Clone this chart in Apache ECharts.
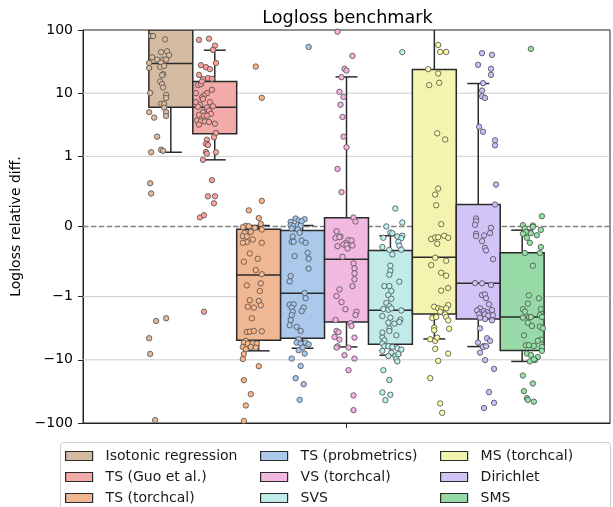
<!DOCTYPE html>
<html>
<head>
<meta charset="utf-8">
<script src="https://cdn.jsdelivr.net/npm/echarts@6/dist/echarts.min.js"></script>
<style>html,body{margin:0;padding:0;background:#fff}#c{width:613px;height:507px}</style>
</head>
<body>
<div id="c"></div>
<script>
// ---------- data ----------
const groups = ['Isotonic regression','TS (Guo et al.)','TS (torchcal)','TS (probmetrics)','VS (torchcal)','SVS','MS (torchcal)','Dirichlet','SMS'];
const boxFill = ['#d6bba3','#f2aba8','#efb792','#abc9ea','#f1b9e0','#c0ebe9','#f4f3af','#d3c4f7','#98daa7'];
const pointFill = ['#debb9b','#ff9f9b','#ffb482','#a1c9f4','#fab0e4','#b9f2f0','#fffea3','#d0bbff','#8de5a1'];

const whiskerLow  = [1.16, 0.95, -7.2, -6.55, -6.25, -8.45, -4.67, -6.17, -10.6];
const boxQ1       = [6.0, 2.28, -4.9, -4.55, -2.52, -5.66, -1.88, -2.26, -7.1];
const boxMedian   = [29.4, 6.0, -0.69, -0.95, -0.465, -1.64, -0.437, -0.81, -2.10];
const boxQ3       = [200, 15.3, -0.038, -0.057, 0.124, -0.341, 23.7, 0.313, -0.374];
const whiskerHigh = [2000, 47.9, 0.014, 0.014, 18.1, -0.132, 500, 14.2, -0.052];

const yTicks = [-100, -10, -1, 0, 1, 10, 100];
const yTickLabels = ['\u2212100', '\u221210', '\u22121', '0', '1', '10', '100'];
const gridValues = [-10, -1, 1, 10];
const zeroLine = [0];

// points: [value, jitter]
const ptsIso = [[80.5,-8],[80,-6],[71,6],[44.6,2],[46,8],[40,10],[37,-7],[34,-2],[34,4],[34,7],[30,-10],[30.5,2],[25,-10],[26,1],[27,5],[20,4],[19.3,3],[15.3,1],[13.9,3],[12.3,4],[9.4,7],[8.4,7],[10.1,-9],[6.8,2],[6.7,5],[5.9,5],[5.0,7],[5.0,-10],[4.35,7],[4.1,-5],[2.05,-2],[1.16,-8],[1.27,2],[1.22,4],[0.616,-9],[0.47,-8],[-2.43,-3],[-2.2,7],[-4.55,-10],[-8.05,-9],[-90,-4]];
const ptsGuo = [[69.7,-7],[73,3],[56.6,9],[48.4,7],[30,10],[27.7,-5],[25.8,0],[24,4],[19.5,-7],[16.7,-3],[17.3,2],[16.9,6],[13.4,-8],[13.9,-5],[15.3,-4],[11.3,6],[10,-10],[10,1],[9.2,-2],[8.55,-4],[7.2,-10],[8.1,-3],[7.2,4],[6.55,-6],[6.1,-8],[5.95,1],[6.2,7],[5.3,3],[5.0,-3],[4.7,5],[4.55,-7],[4.4,-2],[4.4,1],[3.7,-9],[3.57,-5],[3.57,-1],[3.5,3],[3.17,-7],[3.28,9],[2.34,10],[2.0,8],[1.83,1],[1.58,0],[1.51,2],[1.17,0],[1.1,1],[1.16,10],[0.95,-3],[0.66,6],[0.43,2],[0.43,9],[0.33,8],[0.13,-6],[0.16,-2],[-1.73,-2]];
const ptsTorch = [[26.4,3],[8.45,9],[0.365,9],[0.23,-4],[0.12,6],[0.038,8],[0.01,-7],[-0.01,-10],[0.004,-4],[-0.019,2],[-0.043,9],[-0.09,-8],[-0.076,-2],[-0.138,-10],[-0.142,-6],[-0.185,0],[-0.223,-6],[-0.232,-10],[-0.232,9],[-0.384,-3],[-0.502,-9],[-0.46,5],[-0.62,3],[-0.68,9],[-0.839,-6],[-0.81,8],[-0.92,7],[-1.14,-3],[-1.17,6],[-1.37,8],[-1.44,-5],[-1.49,1],[-2.2,-1],[-3.62,-6],[-3.57,-3],[-3.49,1],[-3.53,9],[-5.0,-7],[-5.33,-9],[-5.53,-5],[-5.47,0],[-5.53,4],[-6.25,-10],[-6.25,-2],[-6.4,3],[-6.8,-7],[-8.1,-9],[-9.7,-10],[-12.6,6],[-21,-9],[-34.9,-2],[-52.7,-7],[-92.5,-9]];
const ptsProb = [[54,9],[0.114,-4],[0.104,5],[0.067,-9],[0.085,-1],[0.075,2],[0.019,-9],[0.01,-6],[0.019,-2],[0.01,1],[-0.028,-8],[-0.043,-2],[-0.09,0],[-0.142,-7],[-0.218,-8],[-0.218,-6],[-0.199,2],[-0.232,6],[-0.374,8],[-0.422,-5],[-0.46,9],[-0.6,9],[-0.706,-9],[-0.782,-10],[-0.948,5],[-1.06,6],[-1.34,-10],[-1.32,-6],[-1.49,-8],[-1.49,4],[-1.69,2],[-1.73,-7],[-1.95,-8],[-2.34,-9],[-2.84,-10],[-3.02,-3],[-3.49,1],[-4.72,-1],[-5.33,-3],[-5.53,1],[-5.33,6],[-5.66,9],[-6.4,3],[-7.05,-1],[-7.96,5],[-9.55,-8],[-12.5,1],[-19.5,-4],[-24.3,4],[-43,0]];
const ptsVS = [[94,-9],[38.9,6],[24.3,-2],[22.8,0],[17.9,-5],[10.5,-7],[8.7,-3],[6.55,-6],[4.2,-4],[2.05,-3],[1.39,0],[0.82,-9],[0.49,-5],[0.128,7],[0.071,9],[-0.067,-10],[-0.142,-6],[-0.161,-11],[-0.152,-7],[-0.194,2],[-0.199,5],[-0.238,-1],[-0.256,-3],[-0.266,0],[-0.28,-9],[-0.27,6],[-0.313,1],[-0.431,-4],[-0.526,7],[-0.597,8],[-0.668,8],[-0.753,8],[-0.849,6],[-0.896,-7],[-0.991,-10],[-1.22,-5],[-1.58,-1],[-1.73,10],[-1.95,9],[-2.34,-11],[-2.64,4],[-2.91,5],[-3.49,-10],[-3.66,-8],[-4.35,-12],[-4.78,-7],[-4.45,8],[-6.1,-9],[-6.4,-10],[-6.4,2],[-8.45,-2],[-9.55,8],[-14.6,2],[-36.6,7],[-62.5,7]];
const ptsSVS = [[44.6,9],[0.256,2],[0.057,9],[0.001,-7],[-0.085,-3],[-0.095,-1],[-0.142,4],[-0.132,9],[-0.161,-10],[-0.166,8],[-0.218,5],[-0.275,6],[-0.293,-11],[-0.331,-4],[-0.331,8],[-0.398,-1],[-0.559,-3],[-0.635,-3],[-0.687,-4],[-0.787,6],[-0.849,-9],[-0.849,-4],[-0.92,-2],[-0.977,-5],[-1.08,-2],[-1.26,-7],[-1.41,-4],[-1.57,-10],[-1.61,-5],[-1.65,8],[-1.53,-2],[-2.03,-11],[-2.15,-3],[-2.31,7],[-2.52,6],[-2.58,-5],[-2.67,1],[-3.17,-4],[-3.49,-4],[-4.09,3],[-3.70,-11],[-4.45,-11],[-4.9,-9],[-5.53,-11],[-6.1,-9],[-6.1,-5],[-6.25,-1],[-6.55,4],[-6.87,8],[-7.2,-11],[-7.7,-2],[-8.7,-5],[-8.7,2],[-8.1,5],[-9.7,3],[-10.6,4],[-14.6,-10],[-20.8,-4],[-32.8,-11],[-35.7,-3],[-43.5,-8]];
const ptsMS = [[58,-2],[45,0],[45,6],[24,-12],[20.5,-2],[13.4,-11],[14.6,-1],[2.31,-3],[1.85,5],[0.54,-2],[0.455,-5],[0.303,-4],[0.033,1],[-0.18,-9],[-0.157,-5],[-0.152,-2],[-0.132,4],[-0.161,8],[-0.246,-3],[-0.445,-5],[-0.488,6],[-0.55,-9],[-0.659,1],[-0.701,6],[-0.914,1],[-0.877,8],[-1.44,-6],[-1.36,8],[-1.53,-2],[-1.58,1],[-1.53,6],[-2.17,-8],[-2.10,-4],[-1.73,0],[-1.90,5],[-2.10,6],[-2.37,8],[-3.22,9],[-3.09,-6],[-3.40,-6],[-5.0,-5],[-4.72,-10],[-4.45,-3],[-6.7,-5],[-7.96,8],[-10.4,-2],[-19.5,-10],[-49,0],[-69,2]];
const ptsDir = [[43,-5],[40.4,5],[28.1,-9],[24.3,4],[19.5,4],[14.4,-4],[11,-5],[8.9,-5],[8.4,-2],[2.94,-8],[2.45,-4],[1.79,8],[1.49,8],[0.597,9],[0.313,8],[0.114,-11],[0.075,-11],[0.024,-12],[-0.019,4],[-0.095,3],[-0.104,-11],[-0.138,-11],[-0.128,-3],[-0.209,-5],[-0.303,-2],[-0.341,-1],[-0.465,6],[-0.806,-12],[-0.81,-5],[-0.834,4],[-0.977,-5],[-0.967,-2],[-1.06,-1],[-1.32,2],[-1.53,-7],[-1.65,-10],[-1.77,-6],[-1.69,-3],[-1.77,0],[-1.63,5],[-1.90,-8],[-1.90,-2],[-2.0,1],[-1.97,6],[-2.15,-7],[-2.26,-2],[-2.37,5],[-3.17,-7],[-4.55,0],[-5.0,3],[-5.33,-9],[-6.02,-3],[-6.25,-4],[-6.1,-1],[-7.7,-7],[-10.1,-2],[-13.9,7],[-32.4,2],[-47.9,7],[-58,-3]];
const ptsSMS = [[50.2,-3],[0.147,8],[0.014,-1],[0.019,-11],[-0.028,-9],[-0.004,-1],[-0.048,7],[-0.076,-8],[-0.095,-3],[-0.124,3],[-0.104,-11],[-0.161,-7],[-0.232,-4],[-0.293,7],[-0.379,-9],[-0.379,6],[-0.559,-1],[-0.981,-5],[-1.06,5],[-1.29,-6],[-1.58,-11],[-1.58,7],[-1.73,-9],[-2.10,-5],[-2.10,-3],[-2.15,-11],[-1.95,6],[-2.10,8],[-2.58,-6],[-2.91,-2],[-2.98,6],[-3.17,9],[-4.09,-10],[-4.78,7],[-5.0,4],[-5.87,-8],[-5.87,-5],[-6.02,0],[-6.25,8],[-7.2,8],[-7.96,-7],[-8.4,-3],[-9.0,4],[-10.1,1],[-10.6,-4],[-9.8,0],[-17.7,-11],[-23.7,-1],[-31.3,-10],[-40.4,-7],[-43,-6],[-46,0]];
const allPoints = [ptsIso, ptsGuo, ptsTorch, ptsProb, ptsVS, ptsSVS, ptsMS, ptsDir, ptsSMS];

// ---------- symlog transform (linthresh 1, linscale 1, base 10) ----------
const LS = 1 / (1 - 1 / 10);
function T(v) { const a = Math.abs(v); return a <= 1 ? v * LS : Math.sign(v) * (LS + Math.log10(a)); }
const YMIN = T(-100), YMAX = T(100);

const N = groups.length;
const BOX_W = 0.75 / N;             // box width in x-axis units
const STRIP_W = 0.8 / N;            // stripplot dodge slot
const JIT = 1 / 528;                // jitter unit
const boxX = i => (i - (N - 1) / 2) * BOX_W;
const stripX = i => (i - (N - 1) / 2) * STRIP_W;

const FONT = 'DejaVu Sans';
const series = [];

// gridlines + zero dashed line (behind boxes)
series.push({
  type: 'custom', name: '_grid', silent: true, z: 1,
  data: gridValues.map(v => [0, T(v), 0]).concat(zeroLine.map(v => [0, T(v), 1])),
  encode: { x: 0, y: 1 },
  renderItem(params, api) {
    const cs = params.coordSys;
    const y = api.coord([0, api.value(1)])[1];
    const dashed = api.value(2) === 1;
    return {
      type: 'line',
      shape: { x1: cs.x, y1: y, x2: cs.x + cs.width, y2: y },
      style: dashed ? { stroke: '#808080', lineWidth: 1.5, lineDash: [5.5, 2.4] }
                    : { stroke: '#cccccc', lineWidth: 1 }
    };
  }
});

for (let i = 0; i < N; i++) {
  series.push({
    type: 'custom', name: groups[i], z: 2, clip: true,
    itemStyle: { color: boxFill[i] },
    data: [[boxX(i), T(whiskerLow[i]), T(boxQ1[i]), T(boxMedian[i]), T(boxQ3[i]), T(whiskerHigh[i])]],
    encode: { x: 0, y: [1, 2, 3, 4, 5] },
    renderItem(params, api) {
      const x = api.value(0);
      const clampV = v => Math.min(YMAX, Math.max(YMIN, v));
      const vals = [1, 2, 3, 4, 5].map(k => api.value(k));
      const py = vals.map(v => api.coord([x, clampV(v)])[1]);
      const cx = api.coord([x, 0])[0];
      const hw = api.size([BOX_W, 0])[0] / 2;
      const stroke = { stroke: '#2a2a2a', lineWidth: 1.5 };
      const ch = [];
      ch.push({ type: 'line', shape: { x1: cx, y1: py[1], x2: cx, y2: py[0] }, style: stroke });
      ch.push({ type: 'line', shape: { x1: cx, y1: py[3], x2: cx, y2: py[4] }, style: stroke });
      if (vals[0] >= YMIN) ch.push({ type: 'line', shape: { x1: cx - hw / 2, y1: py[0], x2: cx + hw / 2, y2: py[0] }, style: stroke });
      if (vals[4] <= YMAX) ch.push({ type: 'line', shape: { x1: cx - hw / 2, y1: py[4], x2: cx + hw / 2, y2: py[4] }, style: stroke });
      ch.push({ type: 'rect', shape: { x: cx - hw, y: py[3], width: 2 * hw, height: py[1] - py[3] },
                style: { fill: boxFill[params.seriesIndex - 1], stroke: '#2a2a2a', lineWidth: 1.5 } });
      ch.push({ type: 'line', shape: { x1: cx - hw, y1: py[2], x2: cx + hw, y2: py[2] }, style: stroke });
      return { type: 'group', children: ch };
    }
  });
}

for (let i = 0; i < N; i++) {
  series.push({
    type: 'scatter', name: groups[i], z: 3, clip: true,
    symbolSize: 5.4,
    itemStyle: { color: pointFill[i], borderColor: '#5a5a5a', borderWidth: 0.9, opacity: 1 },
    data: allPoints[i].map(p => [stripX(i) + p[1] * JIT, T(p[0])])
  });
}

// legend: 3 columns x 3 rows, one single-item legend per entry
const legendColLeft = [65, 260, 440];
const legendRowTop = [449, 470, 491];
const legends = groups.map((g, i) => ({
  orient: 'horizontal',
  left: legendColLeft[Math.floor(i / 3)], top: legendRowTop[i % 3],
  itemWidth: 27, itemHeight: 9, padding: 0,
  selectedMode: false,
  textStyle: { fontFamily: FONT, fontSize: 14, color: '#1a1a1a', lineHeight: 14, padding: [0, 0, 0, 8] },
  data: [{ name: g, icon: 'rect', itemStyle: { color: boxFill[i], borderColor: '#2a2a2a', borderWidth: 1.2 } }]
}));

const chart = echarts.init(document.getElementById('c'), null, { renderer: 'canvas' });
chart.setOption({
  animation: false,
  backgroundColor: '#ffffff',
  grid: { left: 83, right: 3, top: 30, bottom: 84, show: true, borderColor: '#222222', borderWidth: 1, backgroundColor: 'transparent' },
  graphic: [
    { type: 'text', x: 347.5, y: 9, z: 10, style: { text: 'Logloss benchmark', fill: '#000', font: '17.6px "DejaVu Sans"', textAlign: 'center', textVerticalAlign: 'top' } },
    { type: 'rect', shape: { x: 60.5, y: 442.5, width: 550, height: 80, r: 3 }, style: { fill: 'rgba(255,255,255,0.8)', stroke: '#cccccc', lineWidth: 1 }, z: -1 }
  ],
  legend: legends,
  xAxis: {
    type: 'value', min: -0.5, max: 0.5,
    axisLine: { show: true, onZero: false, lineStyle: { color: '#222222', width: 1 } },
    axisTick: { show: true, length: 5, customValues: [0], lineStyle: { color: '#222222' } },
    axisLabel: { show: false },
    splitLine: { show: false }
  },
  yAxis: {
    type: 'value', min: YMIN, max: YMAX,
    name: 'Logloss relative diff.', nameLocation: 'middle', nameGap: 56,
    nameTextStyle: { fontFamily: FONT, fontSize: 14, color: '#000' },
    axisLine: { show: true, onZero: false, lineStyle: { color: '#222222', width: 1 } },
    axisTick: { show: true, length: 5, customValues: yTicks.map(T), lineStyle: { color: '#222222' } },
    axisLabel: {
      customValues: yTicks.map(T), fontFamily: FONT, fontSize: 14, color: '#000', margin: 10,
      showMinLabel: true, showMaxLabel: true,
      formatter: v => {
        let best = 0;
        yTicks.forEach((t, k) => { if (Math.abs(T(t) - v) < Math.abs(T(yTicks[best]) - v)) best = k; });
        return yTickLabels[best];
      }
    },
    splitLine: { show: false }
  },
  series
});
</script>
</body>
</html>
